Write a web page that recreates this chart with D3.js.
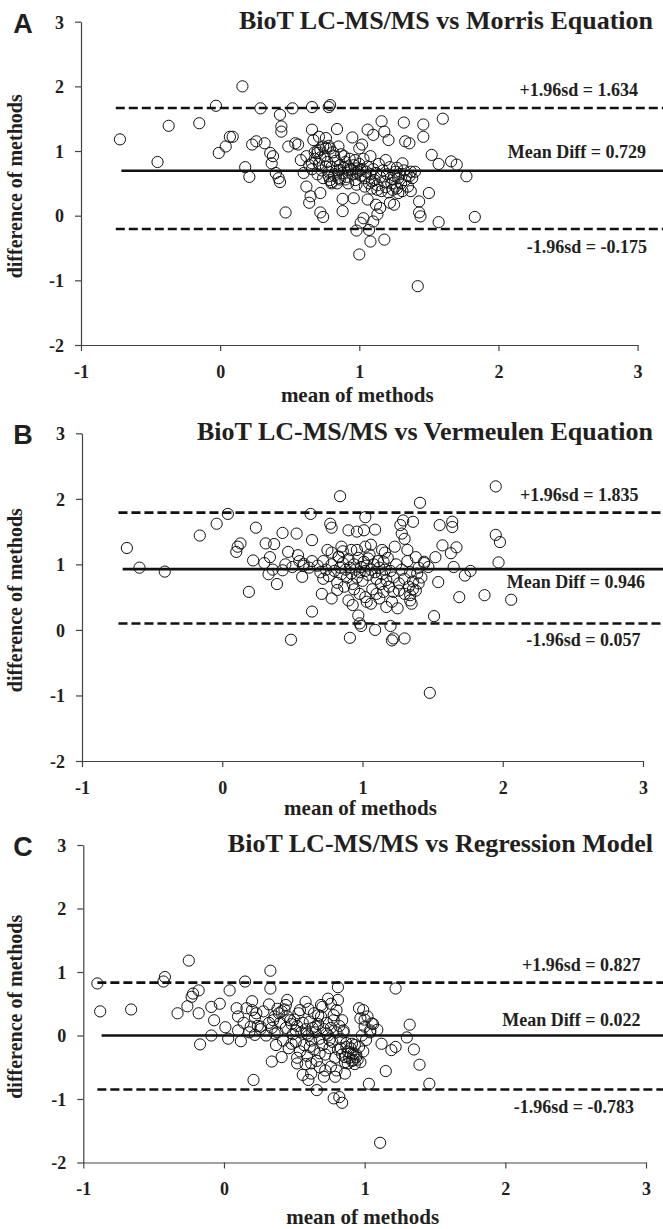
<!DOCTYPE html>
<html>
<head>
<meta charset="utf-8">
<script src="https://cdn.jsdelivr.net/npm/d3@7"></script>
<style>
  html, body { margin: 0; padding: 0; background: #fff; }
  svg { display: block; }
  text { font-family: "Liberation Serif", "Times New Roman", serif; font-weight: bold; fill: #231f20; }
</style>
</head>
<body>
<svg id="chart" width="663" height="1229"></svg>
<script>
// ---------------- DATA ----------------
const xTicks = [-1, 0, 1, 2, 3];
const yTicks = [-2, -1, 0, 1, 2, 3];
const panelLetters = ["A", "B", "C"];
const panelTitles = [
  "BioT LC-MS/MS vs Morris Equation",
  "BioT LC-MS/MS vs Vermeulen Equation",
  "BioT LC-MS/MS vs Regression Model"
];
const xLabel = "mean of methods";
const yLabel = "difference of methods";

// [mean of methods, difference of methods]
const pointsA = [
  [-0.72,1.18],[-0.45,0.83],[-0.37,1.39],[-0.15,1.43],[-0.03,1.70],[-0.01,0.97],[0.04,1.07],[0.07,1.22],[0.09,1.22],
  [0.16,2.00],[0.18,0.75],[0.21,0.60],[0.23,1.10],[0.26,1.15],[0.29,1.66],[0.32,1.12],[0.36,0.97],[0.37,0.81],
  [0.38,0.92],[0.40,0.66],[0.42,0.58],[0.43,0.52],[0.43,1.56],[0.44,1.38],[0.44,1.30],[0.47,0.05],[0.49,1.07],
  [0.52,1.66],[0.54,1.12],[0.56,1.10],[0.58,0.86],[0.60,0.66],[0.62,0.45],[0.64,0.20],[0.65,0.30],[0.66,1.33],
  [0.66,1.68],[0.66,0.81],[0.67,1.17],[0.70,0.97],[0.71,1.22],[0.72,0.35],[0.72,0.05],[0.74,-0.02],[0.74,1.07],
  [0.76,1.20],[0.76,0.76],[0.78,0.61],[0.78,1.68],[0.79,1.71],[0.79,1.04],[0.80,0.50],[0.82,0.92],[0.84,1.34],
  [0.85,1.07],[0.86,0.71],[0.88,0.07],[0.88,0.26],[0.89,0.92],[0.90,0.56],[0.92,0.76],[0.95,1.21],[0.96,0.27],
  [0.97,0.86],[0.98,0.66],[1.00,1.04],[1.01,0.70],[1.02,1.10],[0.98,-0.23],[1.00,-0.60],[1.01,-0.11],[1.03,-0.04],
  [1.06,0.25],[1.06,1.33],[1.07,-0.22],[1.08,-0.40],[1.08,0.92],[1.09,0.53],[1.10,1.25],[1.10,-0.09],[1.12,0.17],
  [1.13,0.02],[1.13,0.40],[1.15,0.12],[1.16,1.46],[1.18,1.30],[1.18,-0.37],[1.19,0.86],[1.21,1.17],[1.22,0.20],
  [1.24,0.56],[1.25,0.17],[1.26,0.45],[1.27,0.74],[1.28,0.35],[1.31,0.81],[1.32,1.44],[1.33,1.15],[1.36,0.61],
  [1.36,1.12],[1.37,0.38],[1.40,0.68],[1.42,-1.09],[1.43,0.22],[1.43,0.05],[1.44,-0.01],[1.46,1.41],[1.46,1.22],
  [1.50,0.35],[1.52,0.94],[1.57,0.80],[1.57,-0.10],[1.60,1.50],[1.66,0.84],[1.70,0.79],[1.77,0.61],[1.83,-0.02],
  [0.62,0.92],[0.64,0.78],[0.66,0.72],[0.68,0.88],[0.70,0.64],[0.71,0.80],[0.72,1.02],[0.73,0.70],[0.74,0.58],
  [0.75,0.92],[0.76,1.05],[0.77,0.83],[0.78,0.68],[0.79,0.55],[0.80,0.75],[0.81,0.98],[0.82,0.62],[0.83,0.85],
  [0.84,0.70],[0.85,0.58],[0.86,0.78],[0.87,0.95],[0.88,0.66],[0.89,0.74],[0.90,0.83],[0.91,0.60],[0.92,0.70],
  [0.93,0.88],[0.94,0.72],[0.95,0.64],[0.96,0.78],[0.97,0.55],[0.98,0.73],[0.99,0.68],[1.00,0.80],[1.01,0.62],
  [1.02,0.72],[1.03,0.88],[1.04,0.58],[1.05,0.68],[1.06,0.76],[1.07,0.50],[1.08,0.64],[1.09,0.42],[1.10,0.72],
  [1.11,0.55],[1.12,0.66],[1.13,0.47],[1.14,0.80],[1.15,0.60],[1.16,0.38],[1.17,0.70],[1.18,0.52],[1.19,0.44],
  [1.20,0.64],[1.21,0.36],[1.22,0.75],[1.23,0.50],[1.24,0.40],[1.25,0.62],[1.26,0.68],[1.27,0.42],[1.28,0.58],
  [1.29,0.64],[1.30,0.50],[1.31,0.38],[1.32,0.70],[1.33,0.55],[1.34,0.62],[1.35,0.45],[1.37,0.68],[1.38,0.58],
  [0.80,0.52],[0.84,0.50],[0.86,0.56],[0.92,0.50],[0.98,0.48],[1.04,0.45],[0.70,1.00],[0.78,1.08],[0.72,0.90],[0.68,0.98]
];

const pointsB = [
  [-0.68,1.25],[-0.59,0.95],[-0.41,0.89],[-0.16,1.44],[-0.04,1.62],[0.04,1.77],[0.10,1.19],[0.11,1.27],[0.13,1.32],
  [0.19,0.58],[0.22,1.06],[0.24,1.56],[0.31,1.32],[0.33,0.85],[0.34,1.11],[0.37,1.31],[0.39,0.70],[0.43,1.48],
  [0.43,0.91],[0.47,1.19],[0.49,-0.15],[0.53,1.47],[0.54,1.14],[0.57,0.81],[0.58,1.01],[0.63,1.77],[0.64,1.37],
  [0.64,0.28],[0.71,0.55],[0.72,0.78],[0.75,1.22],[0.77,1.62],[0.78,1.56],[0.78,0.48],[0.82,0.61],[0.83,1.11],
  [0.84,2.04],[0.85,1.27],[0.90,1.52],[0.91,-0.12],[0.92,1.22],[0.93,0.38],[0.96,1.50],[0.97,0.22],[0.98,0.10],
  [0.99,0.06],[1.01,1.52],[1.02,1.72],[1.02,1.27],[1.03,0.43],[1.04,1.09],[1.06,0.40],[1.09,1.53],[1.09,0.00],
  [1.10,0.55],[1.14,1.22],[1.15,1.04],[1.17,0.35],[1.20,0.06],[1.21,0.43],[1.21,-0.16],[1.22,-0.13],[1.23,1.27],
  [1.25,0.33],[1.26,0.71],[1.27,1.60],[1.28,1.47],[1.29,1.67],[1.30,-0.13],[1.30,1.39],[1.32,1.22],[1.33,0.66],
  [1.34,0.53],[1.35,0.40],[1.36,1.65],[1.38,1.11],[1.39,0.86],[1.40,0.71],[1.41,1.94],[1.44,1.04],[1.47,0.96],
  [1.48,-0.96],[1.51,0.21],[1.52,1.11],[1.54,0.73],[1.55,1.60],[1.57,1.29],[1.63,1.17],[1.64,1.65],[1.64,1.57],
  [1.65,0.96],[1.67,1.26],[1.69,0.50],[1.73,0.83],[1.77,0.90],[1.87,0.53],[1.95,2.19],[1.95,1.45],[1.98,1.34],
  [1.97,1.03],[2.06,0.46],
  [0.68,0.98],[0.70,0.88],[0.72,1.05],[0.74,0.92],[0.76,0.82],[0.78,1.00],[0.80,0.90],[0.82,0.72],[0.83,1.12],
  [0.84,0.95],[0.85,0.85],[0.86,1.02],[0.87,0.66],[0.88,0.92],[0.89,0.80],[0.90,1.08],[0.91,0.95],[0.92,0.86],
  [0.93,0.70],[0.94,1.00],[0.95,0.92],[0.96,0.80],[0.97,1.10],[0.98,0.88],[0.99,0.96],[1.00,0.75],[1.01,1.04],
  [1.02,0.90],[1.03,0.98],[1.04,0.84],[1.05,1.15],[1.06,0.92],[1.07,0.62],[1.08,1.00],[1.09,0.88],[1.10,0.78],
  [1.11,1.05],[1.12,0.95],[1.13,0.70],[1.14,0.85],[1.15,0.58],[1.16,0.92],[1.17,0.76],[1.18,1.10],[1.19,0.66],
  [1.20,0.90],[1.22,0.80],[1.24,1.00],[1.26,0.60],[1.28,0.92],[1.30,0.78],[1.32,1.05],[1.34,0.88],[1.36,0.74],
  [1.38,0.60],[1.40,0.95],[1.42,0.80],[1.44,1.02],[0.94,0.62],[0.98,0.55],[1.02,0.50],[0.90,0.45],[1.12,0.48],
  [0.86,1.20],[0.96,1.22],[1.06,1.30],[1.16,1.18],[0.78,1.18],[1.22,0.58],[1.30,0.55],[1.34,0.45],[1.36,0.62],
  [0.64,1.05],[0.62,0.95],[0.58,0.98],[0.55,1.05],[0.50,0.96],[0.45,1.00],[0.36,0.92],[0.30,1.02]
];

const pointsC = [
  [-0.90,0.82],[-0.88,0.38],[-0.66,0.41],[-0.43,0.85],[-0.42,0.92],[-0.33,0.35],[-0.26,0.46],[-0.25,1.18],[-0.23,0.61],
  [-0.22,0.66],[-0.18,0.71],[-0.18,0.35],[-0.17,-0.14],[-0.09,0.45],[-0.09,0.00],[-0.07,0.24],[-0.03,0.50],[0.01,0.13],
  [0.03,-0.05],[0.04,0.71],[0.09,0.43],[0.10,0.08],[0.12,-0.09],[0.15,0.85],[0.16,0.43],[0.19,0.14],[0.20,0.54],
  [0.21,-0.70],[0.22,0.01],[0.23,0.35],[0.26,0.14],[0.32,0.49],[0.33,1.02],[0.33,0.74],[0.34,-0.41],[0.35,0.24],
  [0.36,0.03],[0.37,-0.15],[0.39,0.35],[0.41,-0.34],[0.43,0.41],[0.45,0.56],[0.47,0.24],[0.48,-0.13],[0.51,0.08],
  [0.52,-0.44],[0.54,0.40],[0.56,-0.62],[0.58,0.53],[0.59,0.03],[0.60,-0.70],[0.61,-0.18],[0.62,-0.44],[0.65,0.14],
  [0.66,-0.86],[0.67,0.32],[0.68,-0.28],[0.69,0.48],[0.71,-0.65],[0.73,0.03],[0.74,0.58],[0.75,-0.07],[0.76,-0.49],
  [0.78,-0.99],[0.78,0.24],[0.79,-0.65],[0.80,0.40],[0.81,0.76],[0.81,0.56],[0.82,-0.97],[0.83,-0.20],[0.84,-1.06],
  [0.84,0.24],[0.85,0.08],[0.86,-0.34],[0.87,-0.18],[0.88,-0.44],[0.90,-0.28],[0.91,-0.13],[0.92,-0.39],[0.93,-0.15],
  [0.94,-0.34],[0.96,0.43],[0.97,0.27],[0.99,0.40],[1.00,0.14],[1.01,-0.07],[1.03,-0.76],[1.04,0.08],[1.05,0.19],
  [1.09,0.09],[1.12,-0.13],[1.15,-0.56],[1.19,-0.23],[1.22,0.74],[1.22,-0.18],[1.30,-0.03],[1.32,0.17],[1.35,-0.22],
  [1.39,-0.46],[1.46,-0.76],[1.11,-1.69],
  [0.10,0.30],[0.14,0.20],[0.18,0.05],[0.22,0.28],[0.26,0.10],[0.28,0.38],[0.30,0.00],[0.32,0.20],[0.34,0.12],
  [0.36,0.30],[0.38,0.05],[0.40,0.20],[0.41,0.38],[0.42,-0.08],[0.44,0.12],[0.45,0.30],[0.46,-0.20],[0.48,0.18],
  [0.49,0.02],[0.50,0.25],[0.51,-0.10],[0.52,0.15],[0.53,0.35],[0.54,-0.25],[0.55,0.05],[0.56,0.20],[0.57,-0.15],
  [0.58,0.10],[0.59,-0.32],[0.60,0.00],[0.61,0.22],[0.62,-0.08],[0.63,0.12],[0.64,-0.22],[0.65,0.05],[0.66,-0.40],
  [0.67,0.18],[0.68,-0.05],[0.69,0.30],[0.70,-0.15],[0.71,0.10],[0.72,-0.30],[0.73,0.20],[0.74,0.00],[0.75,-0.20],
  [0.76,0.12],[0.77,-0.10],[0.78,0.32],[0.79,-0.35],[0.80,0.05],[0.81,-0.22],[0.82,0.15],[0.83,-0.05],[0.84,-0.30],
  [0.85,0.05],[0.86,-0.42],[0.87,-0.12],[0.88,-0.25],[0.89,-0.35],[0.90,-0.20],[0.91,-0.40],[0.92,-0.28],[0.93,-0.45],
  [0.94,-0.30],[0.95,-0.38],[0.96,-0.18],[0.97,-0.42],[0.98,0.00],[0.99,-0.25],[1.00,0.25],[1.02,0.30],[1.04,0.05],
  [1.06,0.18],[0.20,0.40],[0.24,0.15],[0.38,0.42],[0.44,0.48],[0.60,0.42],[0.64,0.35],[0.70,0.45],[0.76,0.50],
  [0.52,-0.35],[0.58,-0.45],[0.72,-0.55],[0.80,-0.55],[0.86,-0.60],[0.62,-0.60],[0.68,-0.50]
];

// reference lines: [upper limit, mean difference, lower limit] as drawn
const linesA = [1.665, 0.696, -0.206];
const linesB = [1.79, 0.927, 0.098];
const linesC = [0.833, 0.0, -0.85];
// where the lines begin on the x scale (dashed, solid)
const lineStartA = [-0.75, -0.71];
const lineStartB = [-0.74, -0.71];
const lineStartC = [-0.90, -0.87];
const labelsA = ["+1.96sd = 1.634", "Mean Diff = 0.729", "-1.96sd = -0.175"];
const labelsB = ["+1.96sd = 1.835", "Mean Diff = 0.946", "-1.96sd = 0.057"];
const labelsC = ["+1.96sd = 0.827", "Mean Diff = 0.022", "-1.96sd = -0.783"];

// ---------------- LAYOUT ----------------
const panels = [
  { points: pointsA, lines: linesA, starts: lineStartA, labels: labelsA,
    px: [81, 637.6], py: [21.7, 345], xlabOff: 50,
    labelPos: [[638, 90], [646, 152], [647, 247]] },
  { points: pointsB, lines: linesB, starts: lineStartB, labels: labelsB,
    px: [82, 643], py: [433.3, 761], xlabOff: 47,
    labelPos: [[638.5, 495], [645, 582], [640.6, 640]] },
  { points: pointsC, lines: linesC, starts: lineStartC, labels: labelsC,
    px: [83.3, 646], py: [845, 1162.5], xlabOff: 54,
    labelPos: [[640.6, 964.6], [640.6, 1020], [634, 1106.6]] }
];

const svg = d3.select("#chart");
const ink = "#231f20";
const fmt = d => String(d);   // plain hyphen-minus like the original

panels.forEach((p, i) => {
  const x = d3.scaleLinear().domain([-1, 3]).range(p.px);
  const y = d3.scaleLinear().domain([3, -2]).range(p.py);
  const g = svg.append("g");

  // y axis
  const ya = g.append("g").attr("transform", `translate(${p.px[0]},0)`)
    .call(d3.axisLeft(y).tickValues(yTicks).tickSize(6).tickPadding(11).tickSizeOuter(0).tickFormat(fmt));
  // x axis
  const xa = g.append("g").attr("transform", `translate(0,${p.py[1]})`)
    .call(d3.axisBottom(x).tickValues(xTicks).tickSize(6).tickPadding(14).tickSizeOuter(0).tickFormat(fmt));
  [ya, xa].forEach(a => {
    a.select(".domain").attr("stroke", "#444").attr("stroke-width", 1.2);
    a.selectAll(".tick line").attr("stroke", "#444").attr("stroke-width", 1.2);
    a.selectAll(".tick text").attr("fill", ink).style("font-size", "18px")
      .style("font-family", "'Liberation Serif', serif").style("font-weight", "bold");
  });
  ya.selectAll(".tick text").attr("dy", "0.35em");

  const xEnd = x.invert(663);
  // reference lines
  const lineData = [
    { v: p.lines[0], s: p.starts[0], dash: true },
    { v: p.lines[1], s: p.starts[1], dash: false },
    { v: p.lines[2], s: p.starts[0], dash: true }
  ];
  g.selectAll("line.ref").data(lineData).enter().append("line")
    .attr("class", "ref")
    .attr("x1", d => x(d.s)).attr("x2", x(xEnd))
    .attr("y1", d => y(d.v)).attr("y2", d => y(d.v))
    .attr("stroke", "#111").attr("stroke-width", 2.6)
    .attr("stroke-dasharray", d => d.dash ? "9,4" : null);

  // points
  g.selectAll("circle").data(p.points).enter().append("circle")
    .attr("cx", d => x(d[0])).attr("cy", d => y(d[1])).attr("r", 5.6)
    .attr("fill", "none").attr("stroke", "#111").attr("stroke-width", 1);

  // line labels
  g.selectAll("text.lab").data(p.labels).enter().append("text")
    .attr("class", "lab")
    .attr("x", (d, k) => p.labelPos[k][0]).attr("y", (d, k) => p.labelPos[k][1])
    .attr("dy", "0.35em").attr("text-anchor", "end")
    .style("font-size", "18px").text(d => d);

  // title
  g.append("text").attr("x", 653).attr("y", p.py[0] + 7).attr("text-anchor", "end")
    .style("font-size", "26px").text(panelTitles[i]);

  // panel letter
  g.append("text").attr("x", 23).attr("y", p.py[0] + 11).attr("text-anchor", "middle")
    .style("font-family", "'Liberation Sans', Arial, sans-serif").style("font-size", "27px")
    .text(panelLetters[i]);

  // axis titles
  g.append("text").attr("x", (p.px[0] + p.px[1]) / 2 - 2).attr("y", p.py[1] + p.xlabOff)
    .attr("dy", "0.35em").attr("text-anchor", "middle").style("font-size", "21px").text(xLabel);
  g.append("text")
    .attr("transform", `translate(15,${(p.py[0] + p.py[1]) / 2 + 3}) rotate(-90)`)
    .attr("dy", "0.35em").attr("text-anchor", "middle").style("font-size", "20px").text(yLabel);
});
</script>
</body>
</html>
